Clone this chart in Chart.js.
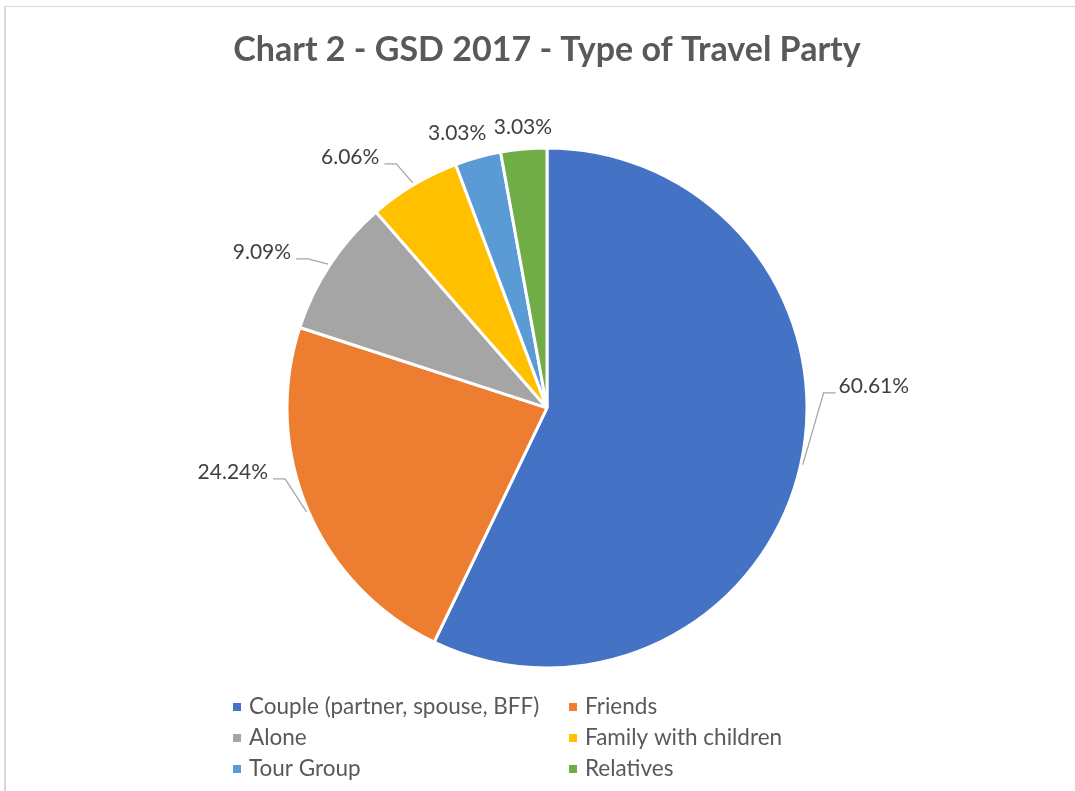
<!DOCTYPE html>
<html>
<head>
<meta charset="utf-8">
<title>Type of Travel Party</title>
<script src="https://cdn.jsdelivr.net/npm/chart.js@4/dist/chart.umd.min.js"></script>
<style>
  html, body { margin: 0; padding: 0; background: #ffffff; }
  #wrap { position: relative; width: 1075px; height: 791px; overflow: hidden; }
  canvas { display: block; }
</style>
</head>
<body>
<div id="wrap"><canvas id="chart" width="1075" height="791"></canvas></div>
<script>
// ---- data ----
const categories = [
  'Couple (partner, spouse, BFF)',
  'Friends',
  'Alone',
  'Family with children',
  'Tour Group',
  'Relatives'
];
const shares = [60.61, 24.24, 9.09, 6.06, 3.03, 3.03];
const chartTitle = 'Chart 2 - GSD 2017 - Type of Travel Party';

// ---- styling ----
const sliceColors = ['#4472C4', '#ED7D31', '#A5A5A5', '#FFC000', '#5B9BD5', '#70AD47'];
const FONT = 'Lato, "Open Sans", "Noto Sans", sans-serif';

// Label placement around the pie, in polar terms relative to the pie:
// angle (deg, 0 = 3 o'clock, clockwise), distance as a multiple of radius,
// and the angle where the leader line touches the rim (null = no leader).
const labelPlacement = [
  { angle: -3.85,  dist: 1.260, leader: 12.5 },
  { angle: 168.5,  dist: 1.233, leader: 156.6 },
  { angle: -151.3, dist: 1.250, leader: -146.7 },
  { angle: -128.1, dist: 1.227, leader: -120.8 },
  { angle: -108.1, dist: 1.112, leader: null },
  { angle: -94.9,  dist: 1.085, leader: null }
];

// Two-column legend grid under the pie
const legendLayout = { colX: [233, 569], rowY: [707, 738, 769], box: 8, gap: 8 };

const rad = d => d * Math.PI / 180;

// Light frame along the top and left edges
const framePlugin = {
  id: 'frame',
  beforeDraw(chart) {
    const ctx = chart.ctx;
    ctx.save();
    ctx.fillStyle = '#d9d9d9';
    ctx.fillRect(4, 6, chart.width, 1);
    ctx.fillRect(4, 6, 2, chart.height);
    ctx.restore();
  }
};

// Percentage labels with leader lines
const sliceLabelPlugin = {
  id: 'sliceLabels',
  afterDatasetsDraw(chart) {
    const ctx = chart.ctx;
    const meta = chart.getDatasetMeta(0);
    const values = chart.data.datasets[0].data;
    ctx.save();
    ctx.font = '21px ' + FONT;
    ctx.textAlign = 'center';
    ctx.textBaseline = 'middle';
    meta.data.forEach((arc, i) => {
      const p = labelPlacement[i];
      if (!p) return;
      const cx = arc.x, cy = arc.y, R = arc.outerRadius;
      const tx = cx + R * p.dist * Math.cos(rad(p.angle));
      const ty = cy + R * p.dist * Math.sin(rad(p.angle));
      const text = values[i].toFixed(2) + '%';
      ctx.fillStyle = '#404040';
      ctx.fillText(text, tx, ty);
      if (p.leader !== null) {
        const hw = ctx.measureText(text).width / 2;
        const leftOfPie = tx < cx;
        const sx = leftOfPie ? tx + hw + 5 : tx - hw - 3;
        const ex = leftOfPie ? sx + 12 : sx - 12;
        const sy = ty + 7;
        const rx = cx + (R + 2) * Math.cos(rad(p.leader));
        const ry = cy + (R + 2) * Math.sin(rad(p.leader));
        ctx.strokeStyle = '#a6a6a6';
        ctx.lineWidth = 1.3;
        ctx.beginPath();
        ctx.moveTo(sx, sy);
        ctx.lineTo(ex, sy);
        ctx.lineTo(rx, ry);
        ctx.stroke();
      }
    });
    ctx.restore();
  }
};

// Legend drawn in two columns from the chart's own legend items
const gridLegendPlugin = {
  id: 'gridLegend',
  afterDraw(chart) {
    const ctx = chart.ctx;
    const items = Chart.overrides.doughnut.plugins.legend.labels.generateLabels(chart);
    const L = legendLayout;
    ctx.save();
    ctx.font = '22.5px ' + FONT;
    ctx.textAlign = 'left';
    ctx.textBaseline = 'middle';
    items.forEach((item, i) => {
      const col = i % 2, row = Math.floor(i / 2);
      const x = L.colX[col], y = L.rowY[row];
      ctx.fillStyle = item.fillStyle;
      ctx.fillRect(x, y - L.box / 2, L.box, L.box);
      ctx.fillStyle = '#595959';
      ctx.fillText(item.text, x + L.box + L.gap, y);
    });
    ctx.restore();
  }
};

new Chart(document.getElementById('chart'), {
  type: 'pie',
  data: {
    labels: categories,
    datasets: [{
      data: shares,
      backgroundColor: sliceColors,
      borderColor: '#ffffff',
      borderWidth: 3,
      radius: 260
    }]
  },
  options: {
    responsive: false,
    animation: false,
    layout: { padding: { left: 150, right: 131, top: 0, bottom: 56 } },
    plugins: {
      legend: { display: false },
      tooltip: { enabled: false },
      title: {
        display: true,
        text: chartTitle,
        color: '#595959',
        font: { family: FONT, size: 34, weight: 'bold' },
        padding: { top: 30, bottom: 10 }
      }
    }
  },
  plugins: [framePlugin, sliceLabelPlugin, gridLegendPlugin]
});
</script>
</body>
</html>
